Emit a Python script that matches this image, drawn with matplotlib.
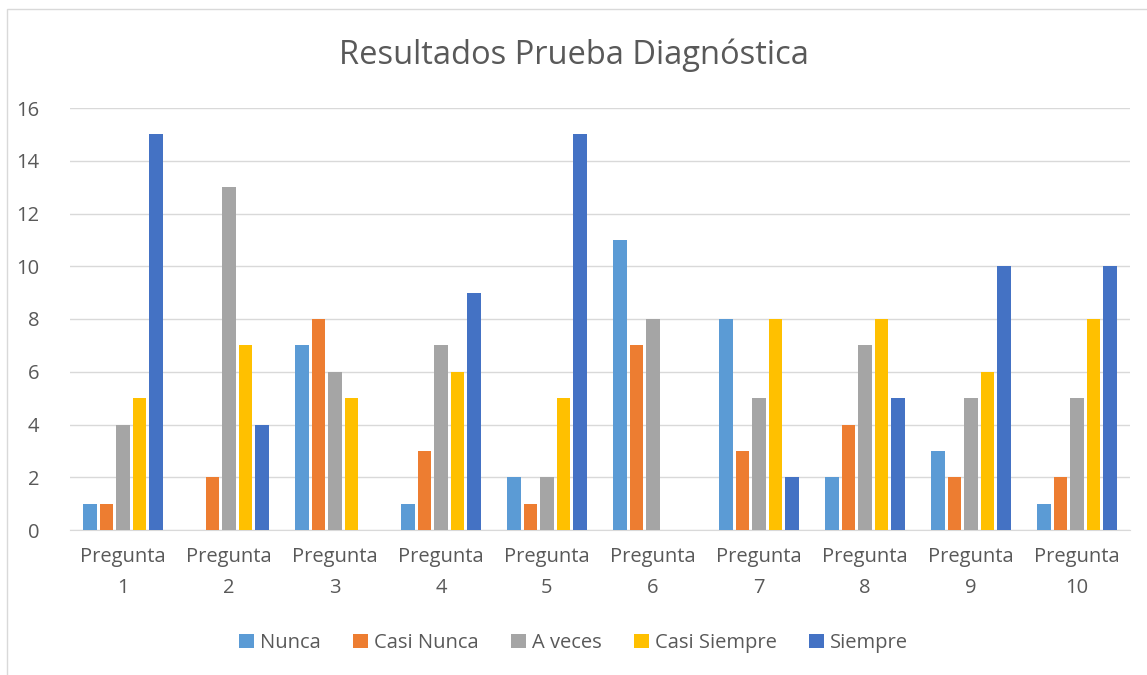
import matplotlib
matplotlib.use("Agg")
import matplotlib.pyplot as plt
from matplotlib.patches import Rectangle
import numpy as np

plt.rcParams['font.family'] = ['Open Sans', 'DejaVu Sans']

preguntas = ["Pregunta\n1", "Pregunta\n2", "Pregunta\n3", "Pregunta\n4", "Pregunta\n5",
             "Pregunta\n6", "Pregunta\n7", "Pregunta\n8", "Pregunta\n9", "Pregunta\n10"]
series = ["Nunca", "Casi Nunca", "A veces", "Casi Siempre", "Siempre"]
nunca = [1, 0, 7, 1, 2, 11, 8, 2, 3, 1]
casi_nunca = [1, 2, 8, 3, 1, 7, 3, 4, 2, 2]
a_veces = [4, 13, 6, 7, 2, 8, 5, 7, 5, 5]
casi_siempre = [5, 7, 5, 6, 5, 0, 8, 8, 6, 8]
siempre = [15, 4, 0, 9, 15, 0, 2, 5, 10, 10]
colores = ["#5B9BD5", "#ED7D31", "#A5A5A5", "#FFC000", "#4472C4"]

datos = [nunca, casi_nunca, a_veces, casi_siempre, siempre]
txt = "#595959"

fig = plt.figure(figsize=(11.47, 6.75), dpi=100)
ax = fig.add_axes([70/1147, 1-530/675, (1130-70)/1147, (530-108)/675])

x = np.arange(len(preguntas))
paso = 0.155
ancho = 0.13
for i, (nombre, vals) in enumerate(zip(series, datos)):
    ax.bar(x + (i - 2) * paso, vals, ancho, color=colores[i], label=nombre, zorder=3)

ax.set_xlim(-0.5, len(preguntas) - 0.5)
ax.set_ylim(0, 16)
ax.set_yticks(range(0, 17, 2))
ax.set_xticks(x)
ax.set_xticklabels(preguntas, color=txt, fontsize=14.5, linespacing=1.75)
ax.tick_params(axis='y', colors=txt, labelsize=14.5, length=0, pad=22)
ax.tick_params(axis='x', length=0, pad=12)
ax.grid(axis='y', color="#D9D9D9", linewidth=1, zorder=0)
for s in ["top", "right", "left"]:
    ax.spines[s].set_visible(False)
ax.spines["bottom"].set_color("#D9D9D9")

fig.text(0.5, 1-55/675, "Resultados Prueba Diagnóstica", ha="center", va="center",
         fontsize=23.5, color=txt)

leg = fig.legend(loc="center", bbox_to_anchor=(0.5, 1-643/675), ncol=5, frameon=False,
                 fontsize=14.5, handlelength=0.75, handleheight=0.75, handletextpad=0.3,
                 columnspacing=1.6)
for t in leg.get_texts():
    t.set_color(txt)

fig.patches.append(Rectangle((7/1147, -0.05), 1.1, 1-9/675+0.05, transform=fig.transFigure,
                             fill=False, edgecolor="#D9D9D9", linewidth=1))

fig.savefig("out.png", dpi=100)
